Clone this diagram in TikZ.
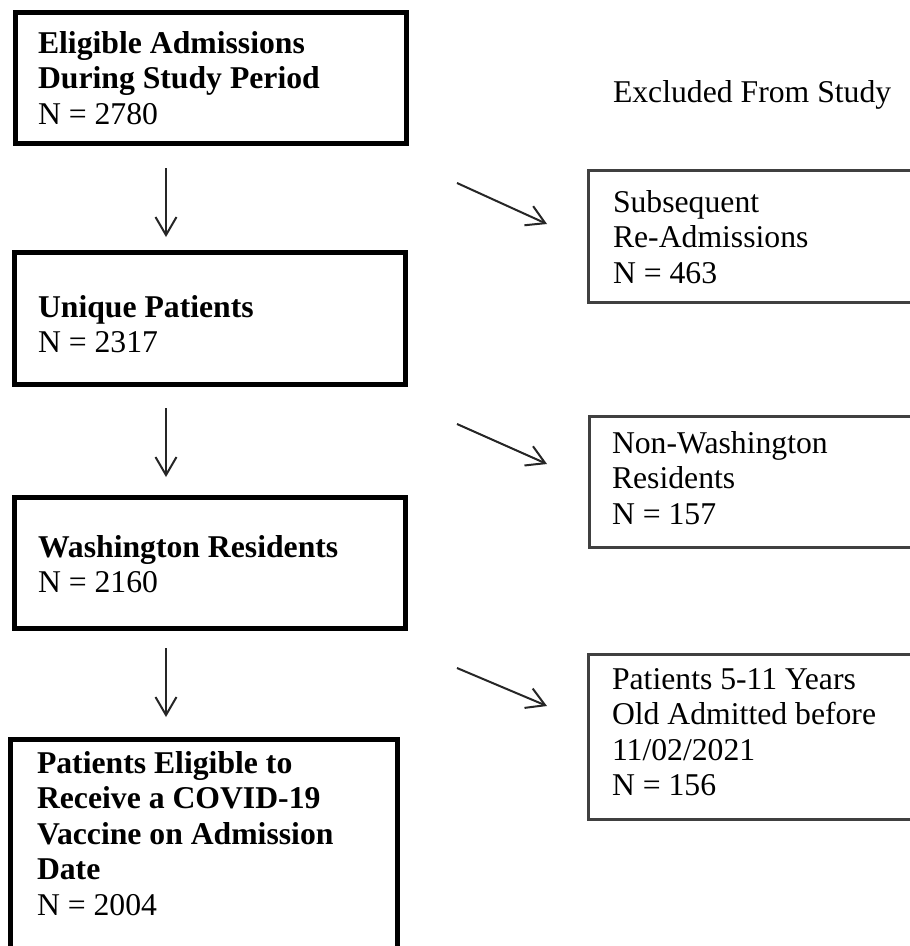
\documentclass[tikz,border=0pt]{standalone}
\usepackage{fontspec}
\setmainfont{Liberation Serif}
\usetikzlibrary{arrows.meta,calc}
\begin{document}
\begin{tikzpicture}[x=1pt,y=-1pt,
  mainbox/.style={draw=black, line width=5pt, outer sep=0pt, inner sep=0pt, anchor=north west},
  exbox/.style={draw=black!75, line width=3pt, outer sep=0pt, inner sep=0pt, anchor=north west},
  txt/.style={anchor=base west, inner sep=0pt, outer sep=0pt, font=\fontsize{31.7}{35.5}\selectfont},
  arr/.style={draw=black!85, line width=2pt, -{Straight Barb[length=18pt,width=21pt]}}]
\fill[white] (0,0) rectangle (910,946);
\useasboundingbox (0,0) rectangle (910,946);
\clip (0,0) rectangle (910,946);
% main boxes
\node[mainbox, minimum width=391pt, minimum height=131pt] (b1) at (15,12) {};
\node[mainbox, minimum width=391pt, minimum height=131.5pt] (b2) at (14,252.5) {};
\node[mainbox, minimum width=391pt, minimum height=131pt] (b3) at (14,497) {};
\node[mainbox, minimum width=386.5pt, minimum height=261pt] (b4) at (10.5,739) {};
% excluded boxes
\node[exbox, minimum width=362pt, minimum height=132pt] (r1) at (588,170) {};
\node[exbox, minimum width=361pt, minimum height=131pt] (r2) at (589,416) {};
\node[exbox, minimum width=362pt, minimum height=165pt] (r3) at (588,654) {};
% texts
\node[txt] (t1) at (38,53) {\begin{tabular}[t]{@{}l@{}}\textbf{Eligible Admissions}\\ \textbf{During Study Period}\\ N = 2780\end{tabular}};
\node[txt] (t2) at (38,317) {\begin{tabular}[t]{@{}l@{}}\textbf{Unique Patients}\\ N = 2317\end{tabular}};
\node[txt] (t3) at (38,557) {\begin{tabular}[t]{@{}l@{}}\textbf{Washington Residents}\\ N = 2160\end{tabular}};
\node[txt] (t4) at (37,773) {\begin{tabular}[t]{@{}l@{}}\textbf{Patients Eligible to}\\ \textbf{Receive a COVID-19}\\ \textbf{Vaccine on Admission}\\ \textbf{Date}\\ N = 2004\end{tabular}};
\node[txt] (ex) at (613,102) {Excluded From Study};
\node[txt] (s1) at (613,212) {\begin{tabular}[t]{@{}l@{}}Subsequent\\ Re-Admissions\\ N = 463\end{tabular}};
\node[txt] (s2) at (612,453) {\begin{tabular}[t]{@{}l@{}}Non-Washington\\ Residents\\ N = 157\end{tabular}};
\node[txt] (s3) at (612,689) {\begin{tabular}[t]{@{}l@{}}Patients 5-11 Years\\ Old Admitted before\\ 11/02/2021\\ N = 156\end{tabular}};
% vertical arrows
\draw[arr] ($(b1.south west)+(151,25)$) -- ($(b2.north west)+(152,-15.5)$);
\draw[arr] ($(b2.south west)+(152,24)$) -- ($(b3.north west)+(152,-20)$);
\draw[arr] ($(b3.south west)+(152,20)$) -- ($(b4.north west)+(155.5,-22)$);
% diagonal arrows
\draw[arr] ($(b1.south east)+(51,40)$) -- ($(r1.north west)+(-41,54)$);
\draw[arr] ($(b2.south east)+(52,40)$) -- ($(r2.north west)+(-42,48)$);
\draw[arr] ($(b3.south east)+(52,40)$) -- ($(r3.north west)+(-41,52)$);
\end{tikzpicture}
\end{document}
